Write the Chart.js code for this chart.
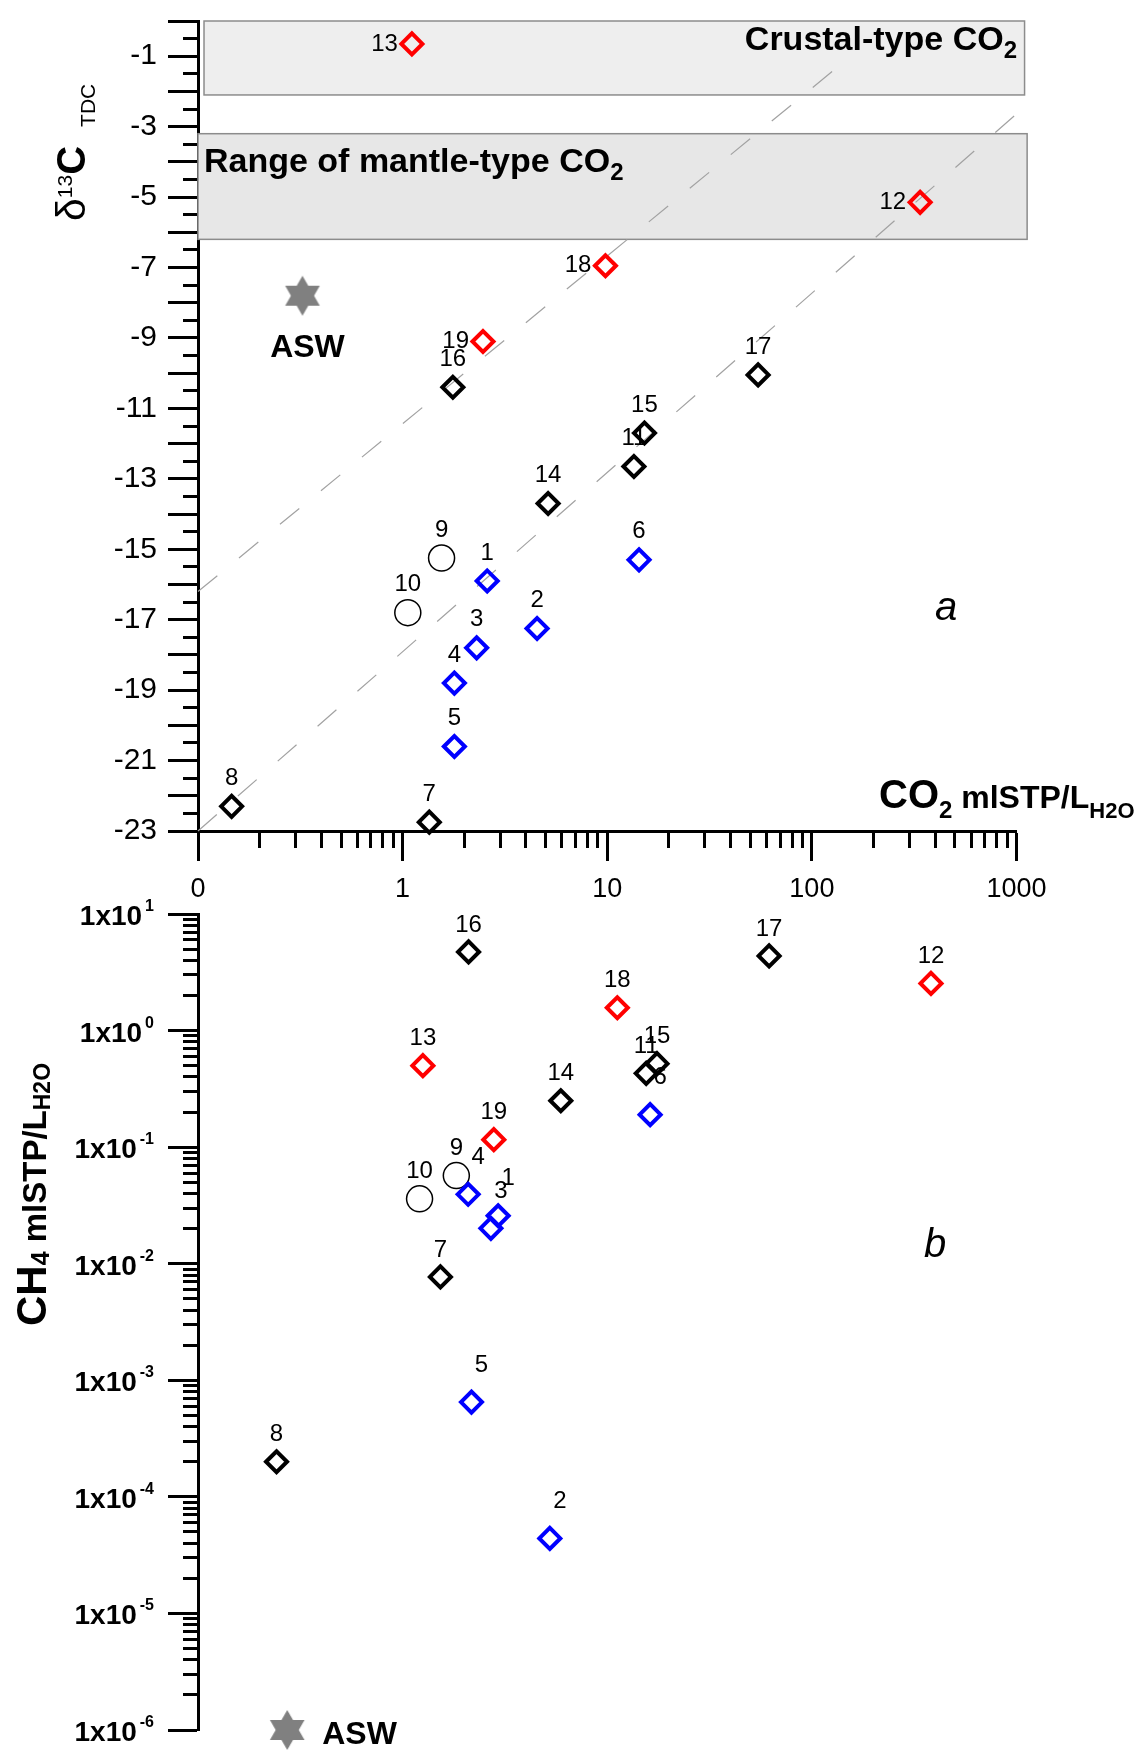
<!DOCTYPE html>
<html>
<head>
<meta charset="utf-8">
<title>CO2, δ13C and CH4 in water samples</title>
<script src="https://cdn.jsdelivr.net/npm/chart.js@4.4.1/dist/chart.umd.min.js"></script>
<style>
  html, body { margin: 0; padding: 0; background: #ffffff; }
  #figure { position: relative; width: 1139px; height: 1751px; overflow: hidden; background: #ffffff; }
  #figure canvas { position: absolute; left: 0; top: 0; }
</style>
</head>
<body>
<div id="figure">
  <canvas id="isotopeChart" width="1139" height="1751"></canvas>
  <canvas id="methaneChart" width="1139" height="1751"></canvas>
</div>
<script>
// ------------------------------
// Sample data
// ------------------------------

const sampleIds = [1, 2, 3, 4, 5, 6, 7, 8, 9, 10, 11, 12, 13, 14, 15, 16, 17, 18, 19];

// panel a: CO2 (mlSTP/L) and d13C of total dissolved carbon
const co2Iso = [2.59, 4.54, 2.30, 1.79, 1.79, 14.3, 1.35, 0.146, 1.55, 1.06, 13.5, 338, 1.11, 5.14, 15.2, 1.76, 54.6, 9.8, 2.47];
const d13C = [-15.9, -17.25, -17.8, -18.8, -20.6, -15.3, -22.75, -22.3, -15.25, -16.8, -12.65, -5.15, -0.65, -13.7, -11.7, -10.4, -10.05, -6.95, -9.1];

// panel b: CO2 and CH4 (mlSTP/L)
const co2Methane = [2.93, 5.24, 2.70, 2.09, 2.17, 16.2, 1.53, 0.242, 1.83, 1.21, 15.5, 382, 1.256, 5.93, 17.5, 2.10, 61.8, 11.2, 2.79];
const ch4 = [0.0258, 4.4e-5, 0.0201, 0.0394, 6.5e-4, 0.19, 0.0077, 2.0e-4, 0.057, 0.036, 0.43, 2.54, 0.50, 0.25, 0.52, 4.73, 4.37, 1.57, 0.116];

// sample groups
const blueSamples = [1, 2, 3, 4, 5, 6];
const redSamples = [12, 13, 18, 19];
const blackSamples = [7, 8, 11, 14, 15, 16, 17];
const circleSamples = [9, 10];

// air saturated water (panel a, panel b)
const aswCo2 = [0.324, 0.273];
const aswD13C = [-7.8];
const aswCh4 = [1e-6];

// d13C ranges and trend lines
const crustalRange = [0, -2.1];
const mantleRange = [-3.2, -6.2];
const crustalSpan = [0.107, 1095];
const mantleSpan = [0.1, 1127];
const upperTrendX = [0.1, 155];
const upperTrendY = [-16.2, -1.0];
const lowerTrendX = [0.1, 1065];
const lowerTrendY = [-23, -2.5];

// tick labels
const co2TickValues = [0.1, 1, 10, 100, 1000];
const co2TickLabels = ['0', '1', '10', '100', '1000'];
const d13CTickValues = [-1, -3, -5, -7, -9, -11, -13, -15, -17, -19, -21, -23];
const ch4TickValues = [10, 1, 0.1, 0.01, 0.001, 1e-4, 1e-5, 1e-6];
const ch4TickExponents = ['1', '0', '-1', '-2', '-3', '-4', '-5', '-6'];


// ------------------------------
// Helpers
// ------------------------------

const FONT = "'Liberation Sans', Arial, Helvetica, sans-serif";
const font = (size, weight = 'normal', style = 'normal') => `${style} ${weight} ${size}px ${FONT}`;

const points = (ids, xs, ys) => ids.map(id => ({ x: xs[id - 1], y: ys[id - 1] }));
const pairs = (xs, ys) => xs.map((x, i) => ({ x: x, y: ys[i] }));
const sameValue = (a, b) => Math.abs(Math.log10(a) - Math.log10(b)) < 1e-9;

// log axis ticks: 1..9 in every decade, "long" on the decades
function logTicks(fromExp, toExp) {
    const ticks = [];
    for (let e = fromExp; e < toExp; e++) {
        for (let m = 1; m <= 9; m++) {
            ticks.push({ value: m * Math.pow(10, e), long: m === 1 });
        }
    }
    ticks.push({ value: Math.pow(10, toExp), long: true });
    return ticks;
}

// linear ticks every half unit, "long" on integers
function halfTicks(min, max) {
    const ticks = [];
    for (let k = min * 2; k <= max * 2; k++) {
        ticks.push({ value: k / 2, long: k % 2 === 0 });
    }
    return ticks;
}

// six-pointed star used for the ASW symbol
function hexagram(r, color) {
    const c = document.createElement('canvas');
    const s = Math.ceil(2 * r + 2);
    c.width = s;
    c.height = s;
    const g = c.getContext('2d');
    g.fillStyle = color;
    [-Math.PI / 2, Math.PI / 2].forEach(a0 => {
        g.beginPath();
        for (let k = 0; k < 3; k++) {
            const a = a0 + k * 2 * Math.PI / 3;
            g.lineTo(s / 2 + r * Math.cos(a), s / 2 + r * Math.sin(a));
        }
        g.closePath();
        g.fill();
    });
    return c;
}

// text made of several runs (sub/superscripts), optionally rotated
function richText(ctx, parts, x, y, align, angle) {
    ctx.save();
    ctx.translate(x, y);
    ctx.rotate(angle || 0);
    ctx.fillStyle = '#000';
    ctx.textAlign = 'left';
    ctx.textBaseline = 'alphabetic';
    const widths = parts.map(p => { ctx.font = p.font; return ctx.measureText(p.text).width + (p.gap || 0); });
    const total = widths.reduce((a, b) => a + b, 0);
    let cx = align === 'right' ? -total : align === 'center' ? -total / 2 : 0;
    parts.forEach((p, i) => {
        ctx.font = p.font;
        ctx.fillText(p.text, cx, p.dy || 0);
        cx += widths[i];
    });
    ctx.restore();
}

// move the plot area onto fixed pixel edges
function pinArea(chart, top, bottom) {
    const area = chart.chartArea;
    const pad = chart.options.layout.padding;
    pad.top += top - area.top;
    pad.bottom += area.bottom - bottom;
    chart.update();
}

const star = hexagram(20, '#808080');

const diamond = color => ({
    pointStyle: 'rectRot',
    pointRadius: 10.5,
    pointBorderWidth: 4,
    borderColor: color,
    pointBorderColor: color,
    backgroundColor: 'rgba(0,0,0,0)',
    pointBackgroundColor: 'rgba(0,0,0,0)',
    clip: false
});

const ring = {
    pointStyle: 'circle',
    pointRadius: 13,
    pointBorderWidth: 1.5,
    borderColor: '#000',
    pointBorderColor: '#000',
    pointBackgroundColor: 'rgba(0,0,0,0)',
    clip: false
};

const trend = {
    type: 'line',
    borderColor: '#a2a2a2',
    borderWidth: 1.2,
    borderDash: [25, 28],
    pointRadius: 0,
    fill: false,
    clip: false,
    order: 5
};

const axisBorder = { display: true, color: '#000', width: 3 };

const leftTicks = minorDash => ({
    drawOnChartArea: false,
    color: '#000',
    tickColor: '#000',
    tickWidth: 3,
    tickLength: 30,
    tickBorderDash: c => (c.tick && c.tick.long) ? [] : minorDash
});


// ------------------------------
// Plugins
// ------------------------------

// number next to every sample symbol
const pointLabels = {
    id: 'pointLabels',
    afterDatasetsDraw(chart, args, opts) {
        const ctx = chart.ctx;
        ctx.save();
        ctx.font = font(24);
        ctx.fillStyle = '#000';
        ctx.textBaseline = 'middle';
        chart.data.datasets.forEach((ds, di) => {
            if (!ds.ids) return;
            chart.getDatasetMeta(di).data.forEach((pt, i) => {
                const id = ds.ids[i];
                if ((opts.leftOf || []).includes(id)) {
                    ctx.textAlign = 'right';
                    ctx.fillText(String(id), pt.x - 14, pt.y);
                } else {
                    const off = (opts.shifted || []).includes(id) ? opts.shift : opts.above;
                    ctx.textAlign = 'center';
                    ctx.fillText(String(id), pt.x + off[0], pt.y + off[1]);
                }
            });
        });
        ctx.restore();
    }
};

// crustal and mantle d13C bands
const rangeBoxes = {
    id: 'rangeBoxes',
    beforeDatasetsDraw(chart) {
        const { ctx, scales: { x, y } } = chart;
        [[crustalSpan, crustalRange, '#eeeeee'], [mantleSpan, mantleRange, '#e7e7e7']].forEach(([xs, ys, fillColor]) => {
            const x0 = x.getPixelForValue(xs[0]);
            const x1 = x.getPixelForValue(xs[1]);
            const y0 = y.getPixelForValue(ys[0]);
            const y1 = y.getPixelForValue(ys[1]);
            ctx.save();
            ctx.fillStyle = fillColor;
            ctx.fillRect(x0, y0, x1 - x0, y1 - y0);
            ctx.strokeStyle = '#8c8c8c';
            ctx.lineWidth = 1.5;
            ctx.strokeRect(x0, y0, x1 - x0, y1 - y0);
            ctx.restore();
        });
    }
};

// titles and notes of panel a
const isotopeText = {
    id: 'isotopeText',
    afterDraw(chart) {
        const ctx = chart.ctx;
        const asw = chart.getDatasetMeta(4).data[0];

        richText(ctx, [
            { text: 'Crustal-type CO', font: font(34, 'bold') },
            { text: '2', font: font(24, 'bold'), dy: 8 }
        ], 1017, 50, 'right');

        richText(ctx, [
            { text: 'Range of mantle-type CO', font: font(34, 'bold') },
            { text: '2', font: font(24, 'bold'), dy: 8 }
        ], 204, 172, 'left');

        richText(ctx, [{ text: 'ASW', font: font(32, 'bold') }], asw.x + 5, asw.y + 61, 'center');
        richText(ctx, [{ text: 'a', font: font(40, 'normal', 'italic') }], 946, 620, 'center');

        richText(ctx, [
            { text: 'CO', font: font(40, 'bold') },
            { text: '2', font: font(24, 'bold'), dy: 10 },
            { text: ' mlSTP/L', font: font(32, 'bold') },
            { text: 'H2O', font: font(22, 'bold'), dy: 10 }
        ], 879, 808, 'left');

        richText(ctx, [
            { text: 'δ', font: font(41) },
            { text: '13', font: font(21), dy: -13 },
            { text: 'C', font: font(40, 'bold'), gap: 19 },
            { text: 'TDC', font: font(21), dy: 10 }
        ], 85, 221, 'left', -Math.PI / 2);
    }
};

// titles, notes and decade labels of panel b
const methaneText = {
    id: 'methaneText',
    afterDraw(chart) {
        const ctx = chart.ctx;
        const yScale = chart.scales.y;
        const asw = chart.getDatasetMeta(4).data[0];

        ch4TickValues.forEach((v, i) => {
            const py = yScale.getPixelForValue(v);
            richText(ctx, [
                { text: '1x10', font: font(28, 'bold'), gap: 3 },
                { text: ch4TickExponents[i], font: font(16, 'bold'), dy: -14 }
            ], 154, py + 11, 'right');
        });

        richText(ctx, [{ text: 'ASW', font: font(32, 'bold') }], asw.x + 35, asw.y + 14, 'left');
        richText(ctx, [{ text: 'b', font: font(40, 'normal', 'italic') }], 935, 1257, 'center');

        richText(ctx, [
            { text: 'CH', font: font(42, 'bold') },
            { text: '4', font: font(25, 'bold'), dy: 3 },
            { text: ' mlSTP/L', font: font(33, 'bold') },
            { text: 'H2O', font: font(23, 'bold'), dy: 4 }
        ], 46, 1326, 'left', -Math.PI / 2);
    }
};


// ------------------------------
// Panel a: d13C vs CO2
// ------------------------------

const isotopeChart = new Chart(document.getElementById('isotopeChart'), {

    type: 'scatter',

    data: {
        datasets: [
            { label: 'blue', ids: blueSamples, data: points(blueSamples, co2Iso, d13C), ...diamond('#0000ff') },
            { label: 'red', ids: redSamples, data: points(redSamples, co2Iso, d13C), ...diamond('#ff0000') },
            { label: 'black', ids: blackSamples, data: points(blackSamples, co2Iso, d13C), ...diamond('#000000') },
            { label: 'circles', ids: circleSamples, data: points(circleSamples, co2Iso, d13C), ...ring },
            { label: 'ASW', data: pairs([aswCo2[0]], aswD13C), pointStyle: star, pointRadius: 20, clip: false },
            { label: 'upper trend', data: pairs(upperTrendX, upperTrendY), ...trend },
            { label: 'lower trend', data: pairs(lowerTrendX, lowerTrendY), ...trend }
        ]
    },

    options: {
        responsive: false,
        animation: false,
        devicePixelRatio: 1,
        events: [],
        layout: { padding: { left: 0, top: 14, right: 122.5, bottom: 841 } },
        plugins: {
            legend: { display: false },
            tooltip: { enabled: false },
            pointLabels: { leftOf: [12, 13, 18, 19], above: [0, -28] }
        },
        scales: {
            x: {
                type: 'logarithmic',
                min: 0.1,
                max: 1000,
                afterBuildTicks: s => { s.ticks = logTicks(-1, 3); },
                afterFit: s => { s.height = 80; s.paddingLeft = 0; s.paddingRight = 0; },
                border: axisBorder,
                grid: {
                    drawOnChartArea: false,
                    color: '#000',
                    tickColor: '#000',
                    tickWidth: 3,
                    tickLength: 30,
                    tickBorderDash: c => (c.tick && c.tick.long) ? [] : [15, 100]
                },
                ticks: {
                    autoSkip: false,
                    maxRotation: 0,
                    padding: 12,
                    color: '#000',
                    font: { family: FONT, size: 27 },
                    callback: v => {
                        const i = co2TickValues.findIndex(t => sameValue(t, v));
                        return i >= 0 ? co2TickLabels[i] : '';
                    }
                }
            },
            y: {
                type: 'linear',
                min: -23,
                max: 0,
                afterBuildTicks: s => { s.ticks = halfTicks(-23, 0); },
                afterFit: s => { s.width = 198; s.paddingTop = 0; s.paddingBottom = 0; },
                border: axisBorder,
                grid: leftTicks([0, 15, 20, 100]),
                ticks: {
                    autoSkip: false,
                    padding: 11,
                    color: '#000',
                    font: { family: FONT, size: 30, lineHeight: 0.5 },
                    callback: v => d13CTickValues.includes(v) ? String(v) : ''
                }
            }
        }
    },

    plugins: [rangeBoxes, pointLabels, isotopeText]

});

pinArea(isotopeChart, 14, 831);


// ------------------------------
// Panel b: CH4 vs CO2
// ------------------------------

const methaneChart = new Chart(document.getElementById('methaneChart'), {

    type: 'scatter',

    data: {
        datasets: [
            { label: 'blue', ids: blueSamples, data: points(blueSamples, co2Methane, ch4), ...diamond('#0000ff') },
            { label: 'red', ids: redSamples, data: points(redSamples, co2Methane, ch4), ...diamond('#ff0000') },
            { label: 'black', ids: blackSamples, data: points(blackSamples, co2Methane, ch4), ...diamond('#000000') },
            { label: 'circles', ids: circleSamples, data: points(circleSamples, co2Methane, ch4), ...ring },
            { label: 'ASW', data: pairs([aswCo2[1]], aswCh4), pointStyle: star, pointRadius: 20, clip: false }
        ]
    },

    options: {
        responsive: false,
        animation: false,
        devicePixelRatio: 1,
        events: [],
        layout: { padding: { left: 0, top: 914, right: 122.5, bottom: 20 } },
        plugins: {
            legend: { display: false },
            tooltip: { enabled: false },
            pointLabels: { shifted: blueSamples, shift: [10, -37], above: [0, -27] }
        },
        scales: {
            x: {
                type: 'logarithmic',
                min: 0.1,
                max: 1000,
                display: false
            },
            y: {
                type: 'logarithmic',
                min: 1e-6,
                max: 10,
                afterBuildTicks: s => { s.ticks = logTicks(-6, 1); },
                afterFit: s => { s.width = 198; s.paddingTop = 0; s.paddingBottom = 0; },
                border: axisBorder,
                grid: leftTicks([0, 15, 20, 100]),
                ticks: {
                    autoSkip: false,
                    padding: 15,
                    callback: () => ''
                }
            }
        }
    },

    plugins: [pointLabels, methaneText]

});

pinArea(methaneChart, 914, 1731);
</script>
</body>
</html>
